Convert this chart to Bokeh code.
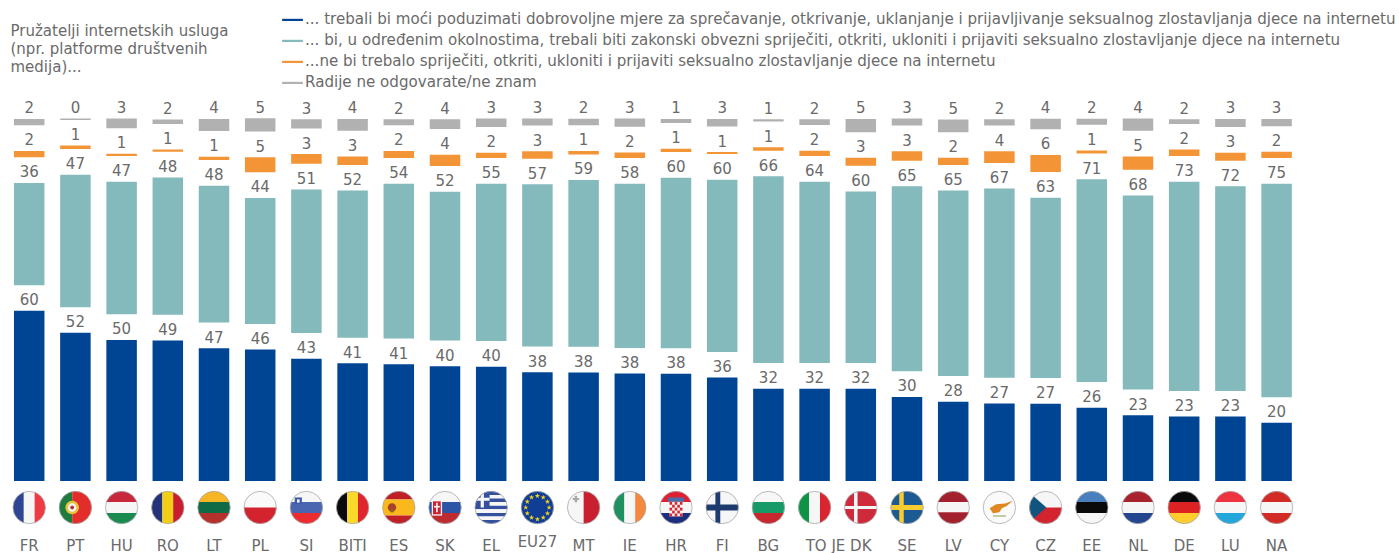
import math
import numpy as np
from bokeh.plotting import figure
from bokeh.models import ColumnDataSource, FixedTicker, Legend, LegendItem, Range1d
from bokeh.core.properties import value
from bokeh.embed import file_html
from bokeh.resources import INLINE

countries = ["FR","PT","HU","RO","LT","PL","SI","BITI","ES","SK","EL","EU27","MT","IE","HR","FI","BG","TO JE","DK","SE","LV","CY","CZ","EE","NL","DE","LU","NA"]
flag_codes = ["FR","PT","HU","RO","LT","PL","SI","BE","ES","SK","EL","EU","MT","IE","HR","FI","BG","IT","DK","SE","LV","CY","CZ","EE","NL","DE","LU","AT"]

blue  = [59.7,52.0,49.5,49.3,46.6,46.1,42.9,41.3,41.0,40.3,40.1,38.2,38.1,37.7,37.6,36.3,32.4,32.4,32.4,29.5,27.8,27.2,27.1,25.7,23.1,22.6,22.6,20.4]
teal  = [35.9,46.5,46.5,48.2,48.0,44.2,50.4,51.6,54.3,52.2,55.2,56.9,58.5,57.6,59.8,60.4,65.5,63.6,60.2,64.9,65.1,66.4,63.3,71.2,68.1,73.4,71.8,74.9]
orange= [2.2,1.2,0.8,0.8,1.2,5.3,3.4,3.0,2.5,4.0,1.9,2.6,1.2,2.0,1.2,0.7,1.2,1.9,2.8,3.3,2.5,4.1,6.0,1.1,4.7,2.3,2.8,2.2]
grey  = [2.2,0.5,3.4,1.5,4.2,4.7,3.2,4.1,2.1,3.4,3.0,2.5,2.3,2.9,1.4,2.6,0.8,2.0,4.6,2.5,4.4,2.2,3.7,2.1,4.3,1.6,2.8,2.5]

blue_labels   = [60,52,50,49,47,46,43,41,41,40,40,38,38,38,38,36,32,32,32,30,28,27,27,26,23,23,23,20]
teal_labels   = [36,47,47,48,48,44,51,52,54,52,55,57,59,58,60,60,66,64,60,65,65,67,63,71,68,73,72,75]
orange_labels = [2,1,1,1,1,5,3,3,2,4,2,3,1,2,1,1,1,2,3,3,2,4,6,1,5,2,3,2]
grey_labels   = [2,0,3,2,4,5,3,4,2,4,3,3,2,3,1,3,1,2,5,3,5,2,4,2,4,2,3,3]

legend_labels = [
    "... trebali bi moći poduzimati dobrovoljne mjere za sprečavanje, otkrivanje, uklanjanje i prijavljivanje seksualnog zlostavljanja djece na internetu",
    "... bi, u određenim okolnostima, trebali biti zakonski obvezni spriječiti, otkriti, ukloniti i prijaviti seksualno zlostavljanje djece na internetu",
    "...ne bi trebalo spriječiti, otkriti, ukloniti i prijaviti seksualno zlostavljanje djece na internetu",
    "Radije ne odgovarate/ne znam",
]
title_lines = ["Pružatelji internetskih usluga", "(npr. platforme društvenih", "medija)..."]
series_colors = ["#004494", "#85BABC", "#F39436", "#B1B1B1"]
TEXT = "#6A6A6A"
FONT = "DejaVu Sans"
FS = "15px"

# geometry of the frame: pixels per unit, gap between the stacked segments
W, H = 1399, 553
X0, DX = 28.7, 46.2
Y0, DY = 480.5, 2.85
GAP = 9.0
def py(v):
    return (Y0 - v) / DY
def px(v):
    return (v - X0) / DX

p = figure(width=W, height=H, output_backend="svg", toolbar_location=None,
           x_range=Range1d(px(0), px(W)), y_range=Range1d(py(H), py(0)),
           min_border=0, outline_line_color=None,
           background_fill_color="white", border_fill_color="white")
p.grid.visible = False
p.yaxis.visible = False

ax = p.xaxis[0]
ax.fixed_location = py(535)
ax.ticker = FixedTicker(ticks=list(range(len(countries))))
ax.major_label_overrides = {i: ("" if c in ("EU27", "TO JE") else c) for i, c in enumerate(countries)}
ax.axis_line_color = None
ax.major_tick_line_color = None
ax.minor_tick_line_color = None
ax.major_tick_out = 0
ax.major_tick_in = 0
ax.major_label_standoff = 1
ax.major_label_text_font = FONT
ax.major_label_text_font_size = FS
ax.major_label_text_color = TEXT

x = np.arange(len(countries))
segments = [blue, teal, orange, grey]
labels = [blue_labels, teal_labels, orange_labels, grey_labels]
base = np.zeros(len(x))
items = []
for seg, lab, col, name in zip(segments, labels, series_colors, legend_labels):
    top = base + np.array(seg)
    src = ColumnDataSource(dict(x=x, bottom=base, top=top, label=[str(v) for v in lab]))
    r = p.vbar(x="x", bottom="bottom", top="top", width=30.5 / DX, source=src,
               fill_color=col, line_color=None)
    p.text(x="x", y="top", text="label", source=src, y_offset=-11.6, text_align="center",
           text_baseline="middle", text_color=TEXT, text_font=value(FONT), text_font_size=FS)
    items.append(LegendItem(label=name, renderers=[r]))
    base = top + GAP

legend = Legend(items=items, location=(279, 462), orientation="vertical",
                glyph_width=26, glyph_height=3, label_standoff=0, label_height=15,
                spacing=3, padding=0, margin=0, border_line_color=None,
                background_fill_alpha=0, label_text_font=FONT,
                label_text_font_size="15.1px", label_text_color=TEXT)
p.add_layout(legend)

def add_label(text, x_data, y_px, align="left"):
    p.text(x=[x_data], y=[py(y_px)], text=[text], text_align=align, text_baseline="middle",
           text_color=TEXT, text_font=value(FONT), text_font_size=FS)

# texts that do not sit at the axis' own label position
add_label("EU27", countries.index("EU27"), 541, "center")
add_label("TO JE", px(825), 545, "center")
for line, y_px in zip(title_lines, (30, 48, 66)):
    add_label(line, px(10), y_px)

# ---- round flags -------------------------------------------------------------
R = 16.2
CY = 507.0
N = 72
CIRCLE = [(math.cos(2 * math.pi * i / N), math.sin(2 * math.pi * i / N)) for i in range(N)]

def clip_half(poly, a, b, c):
    out = []
    for i, P in enumerate(poly):
        Q = poly[(i + 1) % len(poly)]
        dp, dq = a * P[0] + b * P[1] - c, a * Q[0] + b * Q[1] - c
        if dp >= 0:
            out.append(P)
        if dp * dq < 0:
            t = dp / (dp - dq)
            out.append((P[0] + t * (Q[0] - P[0]), P[1] + t * (Q[1] - P[1])))
    return out

def rect(u0, v0, u1, v1):
    poly = clip_half(CIRCLE, 1, 0, u0)
    poly = clip_half(poly, -1, 0, -u1)
    poly = clip_half(poly, 0, 1, v0)
    return clip_half(poly, 0, -1, -v1)

def tri(pts):
    poly = CIRCLE
    for i, P in enumerate(pts):
        Q = pts[(i + 1) % len(pts)]
        a, b = -(Q[1] - P[1]), Q[0] - P[0]
        poly = clip_half(poly, a, b, a * P[0] + b * P[1])
    return poly

def disc(u, v, r, n=16):
    return [(u + r * math.cos(2 * math.pi * i / n), v + r * math.sin(2 * math.pi * i / n)) for i in range(n)]

def hs(cols, cuts=None):
    n = len(cols)
    cuts = cuts or [1 - 2 * i / n for i in range(n + 1)]
    return [(c, rect(-1, cuts[i + 1], 1, cuts[i])) for i, c in enumerate(cols)]

def vs(cols, cuts=None):
    n = len(cols)
    cuts = cuts or [-1 + 2 * i / n for i in range(n + 1)]
    return [(c, rect(cuts[i], -1, cuts[i + 1], 1)) for i, c in enumerate(cols)]

WHITE = "#F6F6F6"
def greece():
    out = hs(["#34509F" if i % 2 == 0 else WHITE for i in range(9)], [1 - 2 * i / 9 for i in range(10)])
    out += [("#34509F", rect(-1, 0.0, -0.1, 1)), (WHITE, rect(-0.65, 0, -0.45, 1)), (WHITE, rect(-1, 0.42, -0.1, 0.6))]
    return out

def croatia():
    out = hs(["#E21F30", WHITE, "#1C2F7F"], [1, 0.34, -0.34, -1])
    out += [("#4A6FA8", rect(-0.5, 0.35, 0.5, 0.62))]
    out += [(WHITE, rect(-0.4, -0.55, 0.4, 0.35))]
    for i in range(5):
        for j in range(5):
            if (i + j) % 2 == 0:
                out.append(("#D9252F", rect(-0.4 + 0.16 * i, -0.55 + 0.18 * j, -0.24 + 0.16 * i, -0.37 + 0.18 * j)))
    return out

FLAGS = {
    "FR": vs(["#2E4593", WHITE, "#EE3A43"]),
    "PT": vs(["#1F7A3D", "#E32D2A"], [-1, -0.2, 1]) + [("#E8C43A", disc(-0.2, 0, 0.42)), (WHITE, disc(-0.2, 0, 0.26)), ("#B5303A", disc(-0.2, 0, 0.12))],
    "HU": hs(["#C8283C", WHITE, "#1B8A50"]),
    "RO": vs(["#24337A", "#F2CF15", "#C81E2D"]),
    "LT": hs(["#F5B524", "#0E6B45", "#B7312C"]),
    "PL": hs(["#FAFAFA", "#D3232F"]),
    "SI": hs([WHITE, "#4A66B0", "#EC2C2E"]) + [("#3C5AA8", rect(-0.72, 0.22, -0.28, 0.62)), (WHITE, rect(-0.58, 0.3, -0.42, 0.5))],
    "BE": vs(["#0A0A0A", "#FBD92B", "#E1252F"]),
    "ES": hs(["#BE2026", "#FBB81C", "#BE2026"], [1, 0.5, -0.5, -1]) + [("#A8402A", disc(-0.42, 0, 0.26)), ("#8A6A20", rect(-0.52, -0.3, -0.32, -0.12))],
    "SK": hs([WHITE, "#2B56A5", "#BE2C32"]) + [(WHITE, rect(-0.82, -0.5, -0.18, 0.45)), ("#D0202F", rect(-0.74, -0.42, -0.26, 0.38)), (WHITE, rect(-0.55, -0.3, -0.45, 0.3)), (WHITE, rect(-0.68, 0, -0.32, 0.1))],
    "EL": greece(),
    "EU": [("#103E94", rect(-1, -1, 1, 1))],
    "MT": vs([WHITE, "#C9202F"]) + [("#A8A8A8", rect(-0.55, 0.32, -0.4, 0.72)), ("#A8A8A8", rect(-0.68, 0.46, -0.27, 0.58))],
    "IE": vs(["#1F9060", WHITE, "#F4883F"]),
    "HR": croatia(),
    "FI": [(WHITE, rect(-1, -1, 1, 1)), ("#1F3A6E", rect(-0.42, -1, -0.12, 1)), ("#1F3A6E", rect(-1, -0.18, 1, 0.18))],
    "BG": hs(["#F7F7F7", "#169A68", "#C8272E"]),
    "IT": vs(["#0E9346", WHITE, "#DA2430"]),
    "DK": [("#CE2A3B", rect(-1, -1, 1, 1)), (WHITE, rect(-0.42, -1, -0.2, 1)), (WHITE, rect(-1, -0.1, 1, 0.1))],
    "SE": [("#1B5A93", rect(-1, -1, 1, 1)), ("#F8CB2E", rect(-0.48, -1, -0.2, 1)), ("#F8CB2E", rect(-1, -0.15, 1, 0.15))],
    "LV": hs(["#A3202F", WHITE, "#A3202F"], [1, 0.34, -0.3, -1]),
    "CY": [("#FAFAFA", rect(-1, -1, 1, 1)),
           ("#E08722", [(-0.6, -0.05), (-0.2, 0.2), (0.35, 0.25), (0.82, 0.42), (0.45, 0.1), (0.15, -0.05), (0, -0.3), (-0.4, -0.35)]),
           ("#B9C79A", rect(-0.4, -0.58, 0.4, -0.47))],
    "CZ": hs([WHITE, "#D3232F"]) + [("#11557F", tri([(-1.2, -1.1), (0.05, 0), (-1.2, 1.1)]))],
    "EE": hs(["#4A7FBF", "#0A0A0A", WHITE]),
    "NL": hs(["#A9232E", WHITE, "#23468F"]),
    "DE": hs(["#0A0A0A", "#DD2224", "#FFCD2E"]),
    "LU": hs(["#EE3340", WHITE, "#23A6DB"]),
    "AT": hs(["#D22B26", WHITE, "#D22B26"]),
}

fx, fy, fc = [], [], []
for i, code in enumerate(flag_codes):
    for col, poly in FLAGS[code]:
        if poly:
            fx.append([i + u * R / DX for u, v in poly])
            fy.append([py(CY) + v * R / DY for u, v in poly])
            fc.append(col)
p.patches(xs=fx, ys=fy, fill_color=fc, line_color=None)
p.scatter(x=x, y=[py(CY)] * len(x), size=2 * R, marker="circle", fill_color=None,
          line_color="#A8A8A8", line_width=0.8)

eu = flag_codes.index("EU")
star_x = [eu + 0.72 * R / DX * math.sin(2 * math.pi * i / 12) for i in range(12)]
star_y = [py(CY) + 0.72 * R / DY * math.cos(2 * math.pi * i / 12) for i in range(12)]
p.scatter(x=star_x, y=star_y, size=5.5, marker="star", fill_color="#F6D21F", line_color=None)

open("out.html", "w").write(file_html(p, INLINE))
